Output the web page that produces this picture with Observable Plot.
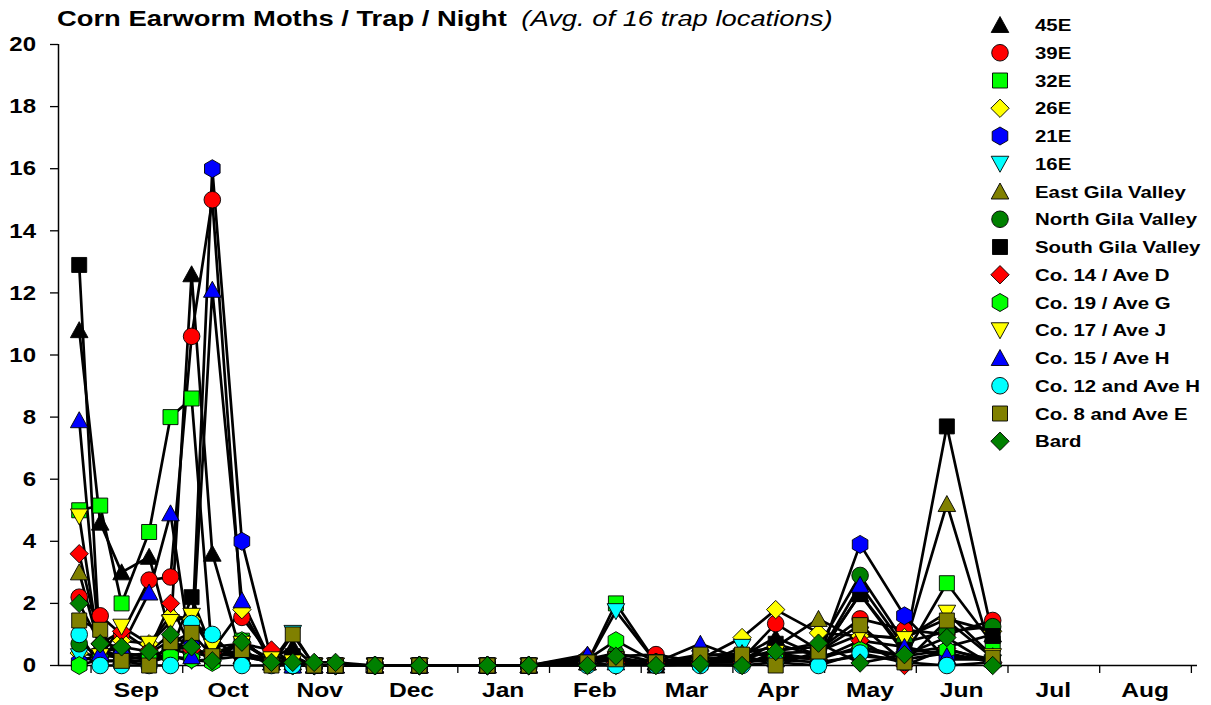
<!DOCTYPE html>
<html><head><meta charset="utf-8">
<script src="https://cdn.jsdelivr.net/npm/d3@7"></script>
<script src="https://cdn.jsdelivr.net/npm/@observablehq/plot@0.6"></script>
<style>
body{margin:0;background:#fff;font-family:"Liberation Sans",Arial,sans-serif;}
#wrap{position:relative;width:1211px;height:705px;overflow:hidden;background:#fff;}
#title{height:32px;padding-left:57px;font-size:22.8px;line-height:36px;white-space:nowrap;color:#000;}
#title .in{display:inline-block;transform:scaleX(1.2);transform-origin:0 50%;}
#title b{font-weight:bold;}
#title i{font-weight:normal;font-style:italic;margin-left:12px;}
#legend{position:absolute;left:0;top:0;}
</style></head><body>
<div id="wrap"><div id="title"><span class="in"><b>Corn Earworm Moths / Trap / Night</b><i>(Avg. of 16 trap locations)</i></span></div><div id="chart"></div></div>
<script>
// ---- data ----
const dates = ["2011-08-28","2011-09-04","2011-09-11","2011-09-20","2011-09-27","2011-10-04","2011-10-11","2011-10-21","2011-10-31","2011-11-07","2011-11-14","2011-11-21","2011-12-04","2011-12-19","2012-01-11","2012-01-25","2012-02-13","2012-02-22","2012-03-06","2012-03-21","2012-04-04","2012-04-15","2012-04-29","2012-05-13","2012-05-28","2012-06-11","2012-06-26"];
const xStart = "2011-08-21", xEnd = "2012-09-03";
const monthLabels = ["Sep","Oct","Nov","Dec","Jan","Feb","Mar","Apr","May","Jun","Jul","Aug"];
const yTicks = [0,2,4,6,8,10,12,14,16,18,20];

const seriesNames = ["45E","39E","32E","26E","21E","16E","East Gila Valley","North Gila Valley","South Gila Valley","Co. 14 / Ave D","Co. 19 / Ave G","Co. 17 / Ave J","Co. 15 / Ave H","Co. 12 and Ave H","Co. 8 and Ave E","Bard"];
const seriesColors = ["#000000","#FF0000","#00FF00","#FFFF00","#0000FF","#00FFFF","#808000","#008000","#000000","#FF0000","#00FF00","#FFFF00","#0000FF","#00FFFF","#808000","#008000"];
const seriesShapes = ["triangle","circle","square","diamond","hexagon","triangleDown","triangle","circle","square","diamond","hexagon","triangleDown","triangle","circle","square","diamond"];

const v45E  = [10.8,4.6,3.0,3.5,1.0,12.6,3.6,0.3,0.2,0.6,0,0,0,0,0,0,0.1,0.2,0,0.2,0.3,0.9,0.3,2.3,0.4,0.6,1.0];
const v39E  = [2.2,1.6,1.0,2.75,2.85,10.6,15.0,1.55,0.3,0.15,0,0,0,0,0,0,0.2,0.3,0.35,0.1,0.2,1.35,0.5,1.5,1.15,1.0,1.45];
const v32E  = [5.0,5.15,2.0,4.3,8.0,8.6,0.3,0.8,0.1,0,0,0,0,0,0,0,0.1,2.0,0.1,0.2,0.3,0.4,0.2,0.6,0.3,2.65,0.7];
const v26E  = [0.4,0.3,0.8,0.7,1.6,1.5,0.5,1.8,0.1,0.1,0,0,0,0,0,0,0.1,0.0,0.1,0.2,0.9,1.8,1.05,0.95,0.9,1.5,1.1];
const v21E  = [0.1,0.4,0.2,0.3,0.5,0.6,16.0,4.0,0.2,0,0,0,0,0,0,0,0.2,0.1,0.1,0.2,0.1,0.3,0.2,3.9,1.6,0.2,0.2];
const v16E  = [0.3,0.1,0.2,0.1,0.3,0.15,0.2,0.3,0.1,1.05,0,0,0,0,0,0,0.1,1.75,0.1,0.0,0.6,0.2,0.1,0.3,0.2,0.4,0.1];
const vEastGila  = [3.0,0.5,0.3,0.4,0.8,0.5,0.4,0.3,0.1,0.1,0,0,0,0,0,0,0.1,0.2,0.1,0.3,0.4,0.6,1.5,0.8,0.6,5.2,0.3];
const vNorthGila = [0.7,0.3,0.4,0.3,0.5,0.4,0.3,0.4,0.1,0.1,0,0,0,0,0,0,0.2,0.4,0.1,0.2,0.2,0.5,0.6,2.9,0.75,1.1,1.25];
const vSouthGila = [12.9,0.3,0.3,0.2,0.4,2.2,0.5,0.4,0.2,0.3,0,0,0,0,0,0,0.1,0.2,0.1,0.1,0.2,0.7,0.3,2.3,0.5,7.7,0.95];
const vCo14 = [3.6,0.7,1.1,0.5,2.0,0.5,0.4,0.7,0.5,0.1,0,0,0,0,0,0,0.3,0.1,0.1,0.1,0.1,0.3,0.2,0.8,0.0,0.55,0.1];
const vCo19 = [0.0,0.2,0.1,0.2,0.3,0.2,0.1,0.8,0.1,0,0,0,0,0,0,0,0.2,0.8,0.1,0.1,0.1,0.2,0.3,0.5,0.3,0.5,0.2];
const vCo17 = [4.8,0.3,1.25,0.7,1.4,1.6,0.6,0.7,0.2,0.1,0,0,0,0,0,0,0.1,0.2,0.0,0.1,0.3,0.4,0.45,1.0,0.85,1.7,0.3];
const vCo15 = [7.9,0.4,0.6,2.35,4.9,0.3,12.1,2.1,0.1,0,0,0,0,0,0,0,0.35,0.1,0.1,0.7,0.2,0.2,0.3,2.6,0.6,0.3,0.2];
const vCo12 = [1.0,0.0,0.0,0.0,0.0,1.35,1.0,0.0,0.0,0.0,0,0,0,0,0,0,0,0,0,0,0.0,0.1,0.0,0.4,0.1,0.0,0.1];
const vCo8  = [1.45,1.15,0.15,0.0,0.75,1.05,0.3,0.5,0.0,1.0,0.0,0.0,0,0,0,0,0.1,0.2,0.1,0.35,0.35,0.0,0.45,1.3,0.1,1.45,0.25];
const vBard = [2.0,0.7,0.6,0.45,1.0,0.6,0.15,0.75,0.1,0.1,0.1,0.1,0,0,0,0,0.0,0.3,0.0,0.05,0.0,0.45,0.72,0.08,0.35,0.9,0.0];

const seriesValues = [v45E,v39E,v32E,v26E,v21E,v16E,vEastGila,vNorthGila,vSouthGila,vCo14,vCo19,vCo17,vCo15,vCo12,vCo8,vBard];

// ---- date -> evenly spaced month axis position ----
function monthPos(s){
  const d = new Date(s + "T00:00:00Z");
  const y = d.getUTCFullYear(), m = d.getUTCMonth(), day = d.getUTCDate();
  const dim = new Date(Date.UTC(y, m + 1, 0)).getUTCDate();
  return (y - 2011) * 12 + m - 8 + (day - 1) / dim;
}

// ---- marker shapes ----
const shapeDefs = {
  circle: {draw(c){ c.moveTo(8.3,0); c.arc(0,0,8.3,0,2*Math.PI); }},
  square: {draw(c){ c.moveTo(-7.5,-7.5); c.lineTo(7.5,-7.5); c.lineTo(7.5,7.5); c.lineTo(-7.5,7.5); c.closePath(); }},
  diamond: {draw(c){ c.moveTo(0,-9.2); c.lineTo(9.2,0); c.lineTo(0,9.2); c.lineTo(-9.2,0); c.closePath(); }},
  triangle: {draw(c){ c.moveTo(0,-8.5); c.lineTo(8.8,7.5); c.lineTo(-8.8,7.5); c.closePath(); }},
  triangleDown: {draw(c){ c.moveTo(0,8.5); c.lineTo(8.8,-7.5); c.lineTo(-8.8,-7.5); c.closePath(); }},
  hexagon: {draw(c){ const ry=9, rx=7.8; c.moveTo(0,-ry); c.lineTo(rx,-ry/2); c.lineTo(rx,ry/2); c.lineTo(0,ry); c.lineTo(-rx,ry/2); c.lineTo(-rx,-ry/2); c.closePath(); }}
};

const table = seriesNames.map((name, i) => seriesValues[i].map((v, j) => ({name, x: monthPos(dates[j]), y: v})));

const boundaries = d3.range(0, 13);
const mids = d3.range(0, 12).map(k => k + 0.5);
const x0 = monthPos(xStart), x1 = monthPos(xEnd);

const marks = [];
table.forEach(rows => marks.push(Plot.line(rows, {x: "x", y: "y", stroke: "#000", strokeWidth: 2.7})));
table.forEach((rows, i) => marks.push(Plot.dot(rows, {x: "x", y: "y", symbol: shapeDefs[seriesShapes[i]], r: 8.5, fill: seriesColors[i], stroke: "#000", strokeWidth: 0.9})));

const H = 673, MB = 40;
const chart = Plot.plot({
  width: 1211, height: H,
  marginLeft: 58, marginRight: 14, marginTop: 12, marginBottom: MB,
  style: {fontFamily: "'Liberation Sans', Arial, sans-serif", background: "#fff", overflow: "visible"},
  x: {type: "linear", domain: [x0, x1], axis: null},
  y: {domain: [0, 20], axis: null},
  marks: [
    Plot.axisY({ticks: yTicks, tickSize: 8, tickFormat: () => "", label: null, strokeWidth: 1.3}),
    Plot.axisX({ticks: boundaries, tickSize: 8, tickFormat: () => "", label: null, strokeWidth: 1.3}),
    Plot.ruleX([x0], {stroke: "#000", strokeWidth: 1.5}),
    Plot.ruleY([0], {stroke: "#000", strokeWidth: 1.5}),
    ...marks
  ]
});
document.getElementById("chart").appendChild(chart);

// ---- tick labels placed through Plot's own scales (glyphs widened as in the reference) ----
const sx = chart.scale("x"), sy = chart.scale("y");
const svg = d3.select(chart);
const fontFam = "'Liberation Sans', Arial, sans-serif";
svg.append("g").selectAll("text").data(yTicks).join("text")
  .attr("transform", d => `translate(36,${sy.apply(d)}) scale(1.2,1)`)
  .attr("text-anchor", "end").attr("dy", "0.36em")
  .style("font-family", fontFam).style("font-weight", "bold").style("font-size", "20px")
  .text(d => d);
svg.append("g").selectAll("text").data(mids).join("text")
  .attr("transform", d => `translate(${sx.apply(d)},${H - MB + 25}) scale(1.2,1)`)
  .attr("text-anchor", "middle").attr("dy", "0.36em")
  .style("font-family", fontFam).style("font-weight", "bold").style("font-size", "20.5px")
  .text(d => monthLabels[Math.floor(d)]);

// ---- legend ----
const leg = d3.select("#wrap").append("svg").attr("id", "legend").attr("width", 1211).attr("height", 705);
const row = leg.selectAll("g").data(seriesNames).join("g")
  .attr("transform", (d, i) => `translate(1000,${25 + i * 27.75})`);
row.append("path").attr("d", (d, i) => d3.symbol().type(shapeDefs[seriesShapes[i]])())
  .attr("fill", (d, i) => seriesColors[i]).attr("stroke", "#000").attr("stroke-width", 0.9);
row.append("text").attr("x", 35 / 1.2).attr("dy", "0.36em").attr("transform", "scale(1.2,1)").text(d => d)
  .style("font-family", fontFam).style("font-weight", "bold").style("font-size", "17px");
</script>
</body></html>
